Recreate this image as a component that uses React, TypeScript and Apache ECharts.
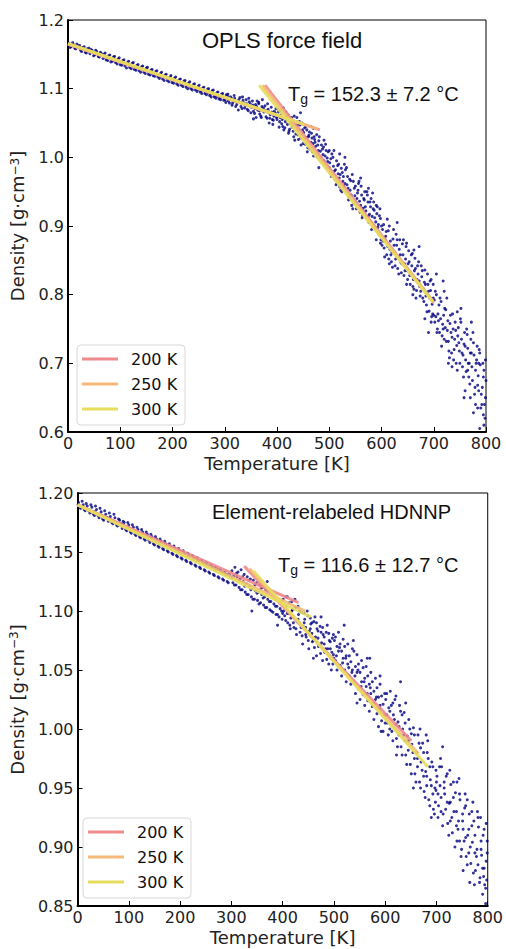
import React, { useEffect, useRef } from "react";
import * as echarts from "echarts";

// ---------- data ----------
const fitLabels = ["200 K", "250 K", "300 K"];
const fitColors = ["#f08a8c", "#f5b97a", "#e6dd5c"];

const oplsTitle = "OPLS force field";
const oplsTg = " = 152.3 ± 7.2 °C";
const hdnnpTitle = "Element-relabeled HDNNP";
const hdnnpTg = " = 116.6 ± 12.7 °C";

// fit segments: [start, end] per window
const oplsGlassFits: number[][][] = [
  [[0, 1.165], [482, 1.040]],
  [[0, 1.165], [478, 1.041]],
  [[0, 1.166], [452, 1.048]],
];
const oplsMeltFits: number[][][] = [
  [[377, 1.105], [700, 0.789]],
  [[372, 1.105], [700, 0.788]],
  [[366, 1.105], [698, 0.790]],
];
const hdnnpGlassFits: number[][][] = [
  [[0, 1.190], [431, 1.107]],
  [[0, 1.190], [444, 1.100]],
  [[0, 1.190], [455, 1.095]],
];
const hdnnpMeltFits: number[][][] = [
  [[325, 1.138], [651, 0.990]],
  [[335, 1.136], [665, 0.979]],
  [[343, 1.134], [683, 0.968]],
];

const oplsPoints: number[][] = [
  [2,1.166],[6,1.161],[11,1.164],[15,1.158],[19,1.162],[24,1.156],[28,1.160],[33,1.153],[37,1.158],[42,1.151],[46,1.156],[51,1.149],[55,1.154],[60,1.146],[64,1.151],[69,1.150],[73,1.142],[78,1.148],[82,1.139],[87,1.146],[91,1.138],[96,1.143],[100,1.135],[105,1.141],[109,1.133],[114,1.138],[118,1.131],[123,1.137],[127,1.128],[132,1.134],[136,1.126],[141,1.132],[145,1.124],[150,1.130],[154,1.121],[159,1.127],[163,1.119],[168,1.125],[172,1.117],[177,1.122],[181,1.114],[186,1.120],[190,1.112],[195,1.117],[199,1.109],[204,1.115],[208,1.107],[213,1.113],[217,1.105],[222,1.111],[226,1.102],[231,1.108],[235,1.100],[240,1.106],[244,1.098],[249,1.103],[253,1.095],[258,1.101],[262,1.093],[267,1.099],[271,1.090],[276,1.097],[280,1.088],[285,1.094],[289,1.085],[294,1.092],[298,1.083],
  [4,1.160],[9,1.167],[13,1.159],[17,1.165],[22,1.163],[26,1.154],[31,1.161],[35,1.152],[40,1.159],[44,1.157],[49,1.148],[53,1.156],[58,1.147],[62,1.153],[67,1.144],[71,1.152],[76,1.141],[80,1.149],[85,1.140],[89,1.147],[94,1.136],[98,1.145],[103,1.134],[107,1.142],[112,1.130],[116,1.140],[121,1.129],[125,1.138],[130,1.127],[134,1.135],[139,1.124],[143,1.133],[148,1.122],[152,1.131],[157,1.120],[161,1.128],[166,1.118],[170,1.126],[175,1.115],[179,1.124],[184,1.112],[188,1.121],[193,1.110],[197,1.119],[202,1.108],[206,1.117],[211,1.105],[215,1.114],[220,1.103],[224,1.112],[229,1.100],[233,1.110],[238,1.098],[242,1.107],[247,1.096],[251,1.105],[256,1.093],[260,1.102],[265,1.091],[269,1.100],[274,1.088],[278,1.098],[283,1.086],[287,1.095],[292,1.084],[296,1.093],
  [303,1.091],[307,1.082],[311,1.088],[315,1.079],[319,1.086],[323,1.077],[327,1.084],[331,1.074],[335,1.083],[339,1.076],[343,1.070],[347,1.081],[351,1.073],[355,1.067],[359,1.077],[363,1.069],[367,1.063],[371,1.074],[375,1.066],[379,1.059],[383,1.070],[387,1.062],[391,1.055],[395,1.067],[399,1.058],[365,1.080],[392,1.048],[360,1.058],
  [301,1.084],[305,1.089],[309,1.079],[313,1.086],[317,1.082],[321,1.074],[325,1.081],[329,1.087],[333,1.071],[337,1.079],[341,1.084],[345,1.068],[349,1.078],[353,1.082],[357,1.064],[361,1.074],[365,1.078],[369,1.060],[373,1.070],[377,1.075],[381,1.057],[385,1.066],[389,1.073],[393,1.054],[397,1.064],[355,1.056],[385,1.050],[372,1.084],
  [402,1.070],[405,1.052],[408,1.062],[411,1.045],[414,1.058],[417,1.066],[420,1.048],[423,1.038],[426,1.057],[429,1.044],[432,1.030],[435,1.052],[438,1.040],[441,1.026],[444,1.047],[447,1.033],[450,1.020],[453,1.043],[456,1.029],[459,1.014],[462,1.037],[465,1.022],[468,1.008],[471,1.030],[474,1.016],[477,1.001],[480,1.024],[483,1.009],[486,0.994],[489,1.015],[492,1.002],[495,0.986],[498,1.008],
  [401,1.060],[404,1.044],[407,1.068],[410,1.055],[413,1.040],[416,1.052],[419,1.060],[422,1.035],[425,1.049],[428,1.058],[431,1.038],[434,1.025],[437,1.046],[440,1.033],[443,1.052],[446,1.018],[449,1.040],[452,1.027],[455,1.045],[458,1.008],[461,1.032],[464,1.014],[467,1.028],[470,1.002],[473,1.022],[476,1.033],[479,1.010],[482,0.998],[485,1.018],[488,1.004],[491,0.990],[494,1.010],[497,0.994],[499,0.982],[445,1.065],[465,1.045],[480,0.985],[490,1.025],
  [502,0.978],[505,1.005],[508,0.987],[511,0.968],[514,0.995],[517,0.976],[520,0.957],[523,0.984],[526,0.965],[529,0.990],[532,0.950],[535,0.972],[538,0.942],[541,0.966],[544,0.975],[547,0.933],[550,0.958],[553,0.940],[556,0.962],[559,0.920],[562,0.945],[565,0.926],[568,0.950],[571,0.912],[574,0.935],[577,0.917],[580,0.940],[583,0.900],[586,0.923],[589,0.906],[592,0.928],[595,0.888],[598,0.911],
  [501,0.992],[504,0.972],[507,1.000],[510,0.980],[513,0.960],[516,0.988],[519,0.970],[522,0.952],[525,0.978],[528,0.958],[531,0.982],[534,0.960],[537,0.938],[540,0.952],[543,0.930],[546,0.965],[549,0.944],[552,0.925],[555,0.952],[558,0.936],[561,0.958],[564,0.915],[567,0.938],[570,0.922],[573,0.945],[576,0.905],[579,0.928],[582,0.914],[585,0.935],[588,0.895],[591,0.918],[594,0.902],[597,0.925],[599,0.880],[530,1.000],[575,0.955],[590,0.880],
  [601,0.872],[604,0.902],[607,0.880],[610,0.858],[613,0.893],[616,0.866],[619,0.848],[622,0.881],[625,0.860],[628,0.888],[631,0.838],[634,0.866],[637,0.847],[640,0.874],[643,0.828],[646,0.852],[649,0.835],[652,0.864],[655,0.815],[658,0.842],[661,0.822],[664,0.853],[667,0.806],[670,0.830],[673,0.812],[676,0.842],[679,0.795],[682,0.818],[685,0.798],[688,0.830],[691,0.776],[694,0.806],[697,0.786],[699,0.815],
  [602,0.895],[605,0.868],[608,0.885],[611,0.910],[614,0.852],[617,0.878],[620,0.862],[623,0.895],[626,0.842],[629,0.872],[632,0.855],[635,0.880],[638,0.832],[641,0.858],[644,0.845],[647,0.870],[650,0.822],[653,0.848],[656,0.830],[659,0.860],[662,0.808],[665,0.838],[668,0.822],[671,0.848],[674,0.798],[677,0.826],[680,0.808],[683,0.836],[686,0.785],[689,0.815],[692,0.795],[695,0.822],[698,0.772],[630,0.905],[660,0.800],[695,0.760],[672,0.870],
  [702,0.760],[705,0.800],[708,0.772],[711,0.745],[714,0.790],[717,0.757],[720,0.735],[723,0.778],[726,0.748],[729,0.718],[732,0.770],[735,0.738],[738,0.705],[741,0.760],[744,0.726],[747,0.752],[750,0.700],[753,0.735],[756,0.712],[759,0.745],[762,0.688],[765,0.722],[768,0.700],[771,0.735],[774,0.675],[777,0.712],[780,0.690],[783,0.725],[786,0.660],[789,0.698],[792,0.640],[795,0.680],[798,0.620],[799,0.705],[690,0.745],[760,0.660],[780,0.640],[720,0.805],
  [701,0.792],[704,0.768],[707,0.750],[710,0.785],[713,0.765],[716,0.740],[719,0.770],[722,0.752],[725,0.795],[728,0.732],[731,0.758],[734,0.715],[737,0.750],[740,0.735],[743,0.700],[746,0.740],[749,0.718],[752,0.760],[755,0.695],[758,0.728],[761,0.705],[764,0.742],[767,0.680],[770,0.715],[773,0.695],[776,0.730],[779,0.665],[782,0.705],[785,0.682],[788,0.715],[791,0.655],[794,0.700],[797,0.640],[800,0.675],[796,0.610],[784,0.635],[770,0.650],[745,0.775],
];

const oplsPointsExtra: number[][] = [
  [1,1.164],[8,1.163],[14,1.160],[21,1.160],[27,1.159],[34,1.157],[39,1.154],[47,1.153],[52,1.152],[57,1.150],[65,1.149],[70,1.146],[75,1.146],[83,1.143],[88,1.142],[93,1.140],[101,1.139],[106,1.137],[111,1.136],[119,1.134],[124,1.132],[129,1.131],[137,1.129],[142,1.128],[147,1.127],[155,1.124],[160,1.123],[165,1.121],[173,1.120],[178,1.118],[183,1.117],[191,1.115],[196,1.114],[201,1.112],[209,1.110],[214,1.109],[219,1.107],[227,1.105],[232,1.104],[237,1.102],[245,1.100],[250,1.099],[255,1.097],[263,1.095],[268,1.094],[273,1.092],[281,1.090],[286,1.089],[291,1.087],[299,1.086],
  [302,1.080],[306,1.092],[310,1.085],[314,1.076],[318,1.090],[322,1.081],[326,1.069],[330,1.080],[334,1.088],[338,1.072],[342,1.078],[346,1.086],[350,1.065],[354,1.076],[358,1.071],[362,1.082],[366,1.068],[370,1.058],[374,1.072],[378,1.068],[382,1.078],[386,1.057],[390,1.066],[394,1.060],[398,1.071],
  [400,1.055],[403,1.066],[406,1.058],[409,1.049],[412,1.072],[415,1.043],[418,1.055],[421,1.062],[424,1.041],[427,1.051],[430,1.048],[433,1.060],[436,1.034],[439,1.047],[442,1.039],[445,1.028],[448,1.050],[451,1.036],[454,1.019],[457,1.040],[460,1.030],[463,1.012],[466,1.035],[469,1.020],[472,1.026],[475,1.005],[478,1.018],[481,1.030],[484,1.000],[487,1.012],[490,0.995],[493,1.019],[496,0.999],[500,1.010],
  [500,0.985],[503,0.998],[506,0.975],[509,1.010],[512,0.982],[515,0.962],[518,0.990],[521,0.975],[524,0.950],[527,0.972],[530,0.962],[533,0.985],[536,0.955],[539,0.968],[542,0.945],[545,0.925],[548,0.955],[551,0.935],[554,0.948],[557,0.965],[560,0.930],[563,0.912],[566,0.940],[569,0.928],[572,0.950],[575,0.915],[578,0.935],[581,0.895],[584,0.925],[587,0.912],[590,0.930],[593,0.898],[596,0.915],[598,0.875],
  [600,0.900],[603,0.878],[606,0.855],[609,0.892],[612,0.870],[615,0.900],[618,0.858],[621,0.840],[624,0.872],[627,0.852],[630,0.880],[633,0.830],[636,0.858],[639,0.845],[642,0.880],[645,0.835],[648,0.815],[651,0.845],[654,0.828],[657,0.858],[660,0.812],[663,0.835],[666,0.795],[669,0.842],[672,0.820],[675,0.805],[678,0.835],[681,0.790],[684,0.815],[687,0.775],[690,0.805],[693,0.820],[696,0.768],[699,0.795],
  [700,0.770],[703,0.805],[706,0.745],[709,0.762],[712,0.795],[715,0.725],[718,0.750],[721,0.780],[724,0.732],[727,0.762],[730,0.708],[733,0.745],[736,0.772],[739,0.720],[742,0.748],[745,0.690],[748,0.730],[751,0.765],[754,0.715],[757,0.680],[760,0.725],[763,0.750],[766,0.700],[769,0.670],[772,0.715],[775,0.745],[778,0.655],[781,0.700],[784,0.668],[787,0.720],[790,0.635],[793,0.665],[796,0.690],[799,0.650],[788,0.605],[776,0.628],[758,0.650],[735,0.695],
  [705,0.830],[718,0.820],[728,0.700],[752,0.780],[765,0.690],[772,0.760],[786,0.700],[795,0.625],[662,0.865],[648,0.875],[683,0.765],[615,0.845],[583,0.948],[560,0.970],[520,1.005],[470,1.042],[438,1.058],
];

const hdnnpPoints: number[][] = [
  [2,1.192],[6,1.187],[11,1.190],[15,1.185],[19,1.189],[24,1.183],[28,1.188],[33,1.181],[37,1.186],[42,1.179],[46,1.184],[51,1.177],[55,1.182],[60,1.176],[64,1.180],[69,1.174],[73,1.179],[78,1.172],[82,1.177],[87,1.170],[91,1.175],[96,1.168],[100,1.173],[105,1.166],[109,1.171],[114,1.164],[118,1.169],[123,1.162],[127,1.167],[132,1.160],[136,1.165],[141,1.158],[145,1.163],[150,1.156],[154,1.161],[159,1.154],[163,1.159],[168,1.152],[172,1.157],[177,1.150],[181,1.155],[186,1.148],[190,1.153],[195,1.146],[199,1.151],[204,1.144],[208,1.149],[213,1.142],[217,1.147],[222,1.140],[226,1.145],[231,1.138],[235,1.143],[240,1.136],[244,1.141],[249,1.134],[253,1.139],[258,1.132],[262,1.137],[267,1.130],[271,1.135],[276,1.128],[280,1.133],[285,1.126],[289,1.131],[294,1.124],[298,1.129],
  [4,1.188],[9,1.193],[13,1.186],[17,1.191],[22,1.185],[26,1.190],[31,1.182],[35,1.189],[40,1.181],[44,1.187],[49,1.178],[53,1.185],[58,1.179],[62,1.183],[67,1.175],[71,1.182],[76,1.173],[80,1.178],[85,1.174],[89,1.176],[94,1.169],[98,1.175],[103,1.167],[107,1.173],[112,1.165],[116,1.171],[121,1.163],[125,1.169],[130,1.161],[134,1.167],[139,1.160],[143,1.165],[148,1.157],[152,1.163],[157,1.155],[161,1.161],[166,1.153],[170,1.159],[175,1.151],[179,1.157],[184,1.149],[188,1.155],[193,1.147],[197,1.153],[202,1.145],[206,1.151],[211,1.143],[215,1.149],[220,1.141],[224,1.147],[229,1.139],[233,1.145],[238,1.137],[242,1.143],[247,1.135],[251,1.141],[256,1.133],[260,1.139],[265,1.131],[269,1.137],[274,1.129],[278,1.135],[283,1.127],[287,1.133],[292,1.125],[296,1.131],
  [301,1.134],[303,1.124],[305,1.130],[307,1.137],[309,1.122],[311,1.129],[313,1.133],[315,1.120],[317,1.127],[319,1.135],[321,1.118],[323,1.125],[325,1.131],[327,1.116],[329,1.123],[331,1.129],[333,1.114],[335,1.121],[337,1.127],[339,1.112],[341,1.119],[343,1.126],[345,1.110],[347,1.117],[349,1.124],[351,1.109],[353,1.116],[355,1.122],[357,1.107],[359,1.114],[361,1.120],[363,1.105],[365,1.112],[367,1.118],[369,1.103],[371,1.110],[373,1.116],[375,1.101],[377,1.108],[379,1.114],[381,1.099],[383,1.106],[385,1.112],[387,1.097],[389,1.104],[391,1.110],[393,1.095],[395,1.102],[397,1.108],[399,1.093],[340,1.100],[370,1.125],[390,1.088],
  [401,1.110],[404,1.096],[407,1.104],[410,1.090],[413,1.107],[416,1.094],[419,1.101],[422,1.086],[425,1.103],[428,1.091],[431,1.097],[434,1.082],[437,1.099],[440,1.087],[443,1.093],[446,1.078],[449,1.096],[452,1.083],[455,1.089],[458,1.074],[461,1.091],[464,1.078],[467,1.085],[470,1.070],[473,1.087],[476,1.073],[479,1.080],[482,1.065],[485,1.082],[488,1.068],[491,1.075],[494,1.060],[497,1.077],[499,1.063],
  [402,1.100],[406,1.112],[409,1.098],[414,1.088],[418,1.108],[421,1.095],[426,1.085],[430,1.104],[433,1.090],[438,1.079],[442,1.098],[445,1.086],[450,1.075],[454,1.094],[457,1.081],[462,1.069],[466,1.090],[469,1.077],[474,1.064],[478,1.086],[481,1.072],[486,1.059],[490,1.081],[493,1.068],[498,1.055],[460,1.060],[475,1.095],[495,1.050],
  [501,1.075],[503,1.058],[506,1.070],[509,1.082],[512,1.054],[515,1.066],[518,1.076],[521,1.050],[524,1.062],[527,1.072],[530,1.045],[533,1.057],[536,1.068],[539,1.040],[542,1.053],[545,1.063],[548,1.034],[551,1.048],[554,1.058],[557,1.029],[560,1.043],[563,1.053],[566,1.024],[569,1.038],[572,1.048],[575,1.019],[578,1.032],[581,1.043],[584,1.013],[587,1.027],[590,1.038],[593,1.007],[596,1.021],[599,1.030],
  [505,1.062],[511,1.069],[517,1.056],[523,1.060],[529,1.052],[535,1.048],[541,1.045],[547,1.050],[553,1.036],[559,1.040],[565,1.030],[571,1.035],[577,1.022],[583,1.027],[589,1.017],[595,1.012],[520,1.088],[545,1.022],[570,1.060],[592,0.998],
  [601,1.025],[604,1.005],[607,1.018],[610,1.032],[613,0.998],[616,1.012],[619,1.025],[622,0.992],[625,1.006],[628,1.020],[631,0.985],[634,1.000],[637,1.014],[640,0.978],[643,0.994],[646,1.008],[649,0.970],[652,0.987],[655,1.001],[658,0.962],[661,0.980],[664,0.995],[667,0.955],[670,0.972],[673,0.988],[676,0.947],[679,0.964],[682,0.980],[685,0.940],[688,0.957],[691,0.972],[694,0.932],[697,0.950],[699,0.965],
  [603,1.012],[609,1.000],[615,1.022],[621,1.004],[627,0.995],[633,1.012],[639,0.990],[645,0.982],[651,0.996],[657,0.975],[663,0.968],[669,0.984],[675,0.960],[681,0.952],[687,0.968],[693,0.945],[698,0.938],[630,1.040],[655,0.950],[680,0.995],[690,0.925],
  [701,0.960],[704,0.935],[707,0.952],[710,0.968],[713,0.928],[716,0.945],[719,0.960],[722,0.920],[725,0.937],[728,0.953],[731,0.912],[734,0.930],[737,0.946],[740,0.905],[743,0.922],[746,0.940],[749,0.898],[752,0.915],[755,0.933],[758,0.892],[761,0.910],[764,0.928],[767,0.886],[770,0.904],[773,0.922],[776,0.880],[779,0.898],[782,0.917],[785,0.874],[788,0.893],[791,0.910],[794,0.868],[797,0.888],[799,0.905],
  [703,0.945],[709,0.930],[715,0.955],[721,0.938],[727,0.922],[733,0.942],[739,0.918],[745,0.905],[751,0.928],[757,0.908],[763,0.895],[769,0.918],[775,0.895],[781,0.885],[787,0.905],[793,0.882],[798,0.872],[712,0.985],[740,0.955],[765,0.870],[790,0.860],[796,0.852],[780,0.930],[760,0.940],
];

const hdnnpPointsExtra: number[][] = [
  [1,1.190],[8,1.188],[14,1.187],[21,1.186],[27,1.184],[34,1.184],[39,1.182],[47,1.181],[52,1.179],[57,1.179],[65,1.177],[70,1.176],[75,1.175],[83,1.173],[88,1.173],[93,1.171],[101,1.170],[106,1.168],[111,1.168],[119,1.166],[124,1.165],[129,1.164],[137,1.162],[142,1.162],[147,1.160],[155,1.159],[160,1.157],[165,1.157],[173,1.155],[178,1.154],[183,1.153],[191,1.151],[196,1.151],[201,1.149],[209,1.148],[214,1.146],[219,1.146],[227,1.144],[232,1.143],[237,1.142],[245,1.140],[250,1.140],[255,1.138],[263,1.137],[268,1.135],[273,1.135],[281,1.133],[286,1.132],[291,1.131],[299,1.129],
  [302,1.128],[306,1.122],[310,1.132],[314,1.126],[318,1.118],[322,1.129],[326,1.121],[330,1.114],[334,1.126],[338,1.118],[342,1.110],[346,1.122],[350,1.115],[354,1.106],[358,1.119],[362,1.111],[366,1.103],[370,1.116],[374,1.108],[378,1.100],[382,1.112],[386,1.104],[390,1.097],[394,1.109],[398,1.100],
  [400,1.098],[403,1.105],[406,1.092],[409,1.112],[412,1.098],[415,1.085],[418,1.100],[421,1.090],[424,1.110],[427,1.080],[430,1.093],[433,1.100],[436,1.086],[439,1.072],[442,1.090],[445,1.080],[448,1.100],[451,1.068],[454,1.085],[457,1.090],[460,1.075],[463,1.095],[466,1.062],[469,1.083],[472,1.071],[475,1.082],[478,1.058],[481,1.078],[484,1.068],[487,1.088],[490,1.055],[493,1.074],[496,1.065],[499,1.080],
  [500,1.060],[503,1.078],[506,1.050],[509,1.066],[512,1.072],[515,1.045],[518,1.060],[521,1.070],[524,1.040],[527,1.055],[530,1.062],[533,1.038],[536,1.050],[539,1.066],[542,1.030],[545,1.048],[548,1.055],[551,1.025],[554,1.040],[557,1.052],[560,1.020],[563,1.036],[566,1.045],[569,1.015],[572,1.030],[575,1.040],[578,1.008],[581,1.025],[584,1.035],[587,1.002],[590,1.020],[593,1.028],[596,0.998],[599,1.012],
  [600,1.005],[603,1.030],[606,0.995],[609,1.015],[612,1.020],[615,0.990],[618,1.008],[621,1.028],[624,0.985],[627,1.002],[630,1.015],[633,0.978],[636,0.995],[639,1.005],[642,0.970],[645,0.990],[648,1.000],[651,0.962],[654,0.980],[657,0.995],[660,0.955],[663,0.975],[666,0.988],[669,0.950],[672,0.965],[675,0.980],[678,0.942],[681,0.960],[684,0.975],[687,0.935],[690,0.952],[693,0.968],[696,0.928],[699,0.948],
  [700,0.955],[703,0.925],[706,0.968],[709,0.942],[712,0.918],[715,0.950],[718,0.932],[721,0.962],[724,0.910],[727,0.938],[730,0.925],[733,0.955],[736,0.900],[739,0.930],[742,0.915],[745,0.945],[748,0.892],[751,0.922],[754,0.905],[757,0.935],[760,0.885],[763,0.915],[766,0.900],[769,0.930],[772,0.878],[775,0.910],[778,0.892],[781,0.925],[784,0.870],[787,0.898],[790,0.882],[793,0.915],[796,0.865],[799,0.895],
  [708,0.975],[726,0.965],[744,0.958],[756,0.945],[771,0.938],[786,0.925],[797,0.920],[752,0.880],[774,0.868],[792,0.875],[683,0.990],[668,1.000],[640,1.022],[622,0.978],[590,1.045],[565,1.060],[538,1.075],
];

// ---------- layout ----------
const W = 506;
const H = 949;
const grids = [
  { left: 68, top: 20, width: 418, height: 412 },
  { left: 73, top: 493, width: 418, height: 413 },
];
const tickFont = "DejaVu Sans";
const textFont = "Liberation Sans";

function makeLegend(x: number, y: number) {
  const children: any[] = [
    {
      type: "rect",
      shape: { x: 0, y: 0, width: 108, height: 80, r: 4 },
      style: { fill: "rgba(255,255,255,0.8)", stroke: "#d8d8d8", lineWidth: 1 },
    },
  ];
  fitLabels.forEach((lab, i) => {
    const cy = 14 + i * 25;
    children.push({
      type: "line",
      shape: { x1: 5, y1: cy, x2: 41, y2: cy },
      style: { stroke: fitColors[i], lineWidth: 3 },
    });
    children.push({
      type: "text",
      x: 54,
      y: cy,
      style: {
        text: lab,
        font: `16px "${tickFont}"`,
        fill: "#111",
        verticalAlign: "middle",
      },
    });
  });
  return { type: "group", x, y, children };
}

function tgText(x: number, y: number, rest: string) {
  return {
    type: "text",
    x,
    y,
    style: {
      text: `{a|T}{b|g}{a|${rest}}`,
      verticalAlign: "middle",
      rich: {
        a: { fontSize: 20, fontFamily: textFont, fill: "#111", lineHeight: 24 },
        b: {
          fontSize: 14,
          fontFamily: textFont,
          fill: "#111",
          lineHeight: 14,
          verticalAlign: "bottom",
          padding: [9, 0, 0, 0],
        },
      },
    },
  };
}

export default function App() {
  const ref = useRef<HTMLDivElement>(null);

  useEffect(() => {
    document.body.style.margin = "0";
    if (!ref.current) return;
    const chart = echarts.init(ref.current, undefined, { renderer: "svg" });

    const yAxisName = "Density [g·cm{sup|−3}]";
    const nameRich = {
      sup: { fontSize: 12, fontFamily: tickFont, verticalAlign: "top", lineHeight: 10, padding: [0, 0, 7, 0] },
    };

    const xAxisBase = (gi: number) => ({
      type: "value",
      gridIndex: gi,
      min: 0,
      max: 800,
      interval: 100,
      name: "Temperature [K]",
      nameLocation: "middle",
      nameGap: 22,
      nameTextStyle: { fontFamily: tickFont, fontSize: 18, color: "#222" },
      axisLine: { show: true, onZero: false, lineStyle: { color: "#000", width: 2 } },
      axisTick: { show: true, inside: true, length: 5, lineStyle: { color: "#000", width: 1 } },
      axisLabel: { fontFamily: tickFont, fontSize: 16, color: "#222", margin: 3, showMinLabel: true, showMaxLabel: true },
      splitLine: { show: false },
    });

    const yAxisBase = (gi: number, min: number, max: number, interval: number, digits: number, gap: number) => ({
      type: "value",
      gridIndex: gi,
      min,
      max,
      interval,
      name: yAxisName,
      nameLocation: "middle",
      nameGap: gap,
      nameRotate: 90,
      nameTextStyle: { fontFamily: tickFont, fontSize: 18, color: "#222", rich: nameRich },
      axisLine: { show: true, onZero: false, lineStyle: { color: "#000", width: 2 } },
      axisTick: { show: true, inside: true, length: 5, lineStyle: { color: "#000", width: 1 } },
      axisLabel: {
        fontFamily: tickFont,
        fontSize: 16,
        color: "#222",
        margin: 4,
        formatter: (v: number) => v.toFixed(digits),
      },
      splitLine: { show: false },
    });

    const option: any = {
      animation: false,
      backgroundColor: "#fff",
      grid: grids.map((g) => ({
        ...g,
        show: true,
        borderColor: "#000",
        borderWidth: 1,
        backgroundColor: "transparent",
      })),
      xAxis: [xAxisBase(0), xAxisBase(1)],
      yAxis: [yAxisBase(0, 0.6, 1.2, 0.1, 1, 40), yAxisBase(1, 0.85, 1.2, 0.05, 2, 46)],
      series: [] as any[],
      graphic: [
        {
          type: "text",
          x: 202,
          y: 40,
          style: { text: oplsTitle, font: `22px "${textFont}"`, fill: "#111", verticalAlign: "middle" },
        },
        {
          type: "text",
          x: 212,
          y: 512,
          style: { text: hdnnpTitle, font: `20px "${textFont}"`, fill: "#111", verticalAlign: "middle" },
        },
        tgText(288, 94, oplsTg),
        tgText(278, 565, hdnnpTg),
        makeLegend(77, 345),
        makeLegend(83, 818),
      ],
    };

    const scatter = (data: number[][], gi: number) => ({
      type: "scatter",
      xAxisIndex: gi,
      yAxisIndex: gi,
      data,
      symbolSize: 3,
      itemStyle: { color: "#000080" },
      silent: true,
      z: 2,
    });
    option.series.push(scatter(oplsPoints.concat(oplsPointsExtra), 0));
    option.series.push(scatter(hdnnpPoints.concat(hdnnpPointsExtra), 1));

    const addFits = (fits: number[][][], gi: number) => {
      fits.forEach((seg, i) => {
        option.series.push({
          type: "line",
          name: fitLabels[i],
          xAxisIndex: gi,
          yAxisIndex: gi,
          data: seg,
          showSymbol: false,
          symbol: "none",
          lineStyle: { color: fitColors[i], width: 3, opacity: 0.9 },
          z: 3 + i,
          silent: true,
        });
      });
    };
    addFits(oplsGlassFits, 0);
    addFits(oplsMeltFits, 0);
    addFits(hdnnpGlassFits, 1);
    addFits(hdnnpMeltFits, 1);

    chart.setOption(option);
    return () => chart.dispose();
  }, []);

  return <div ref={ref} style={{ width: W, height: H }} />;
}
